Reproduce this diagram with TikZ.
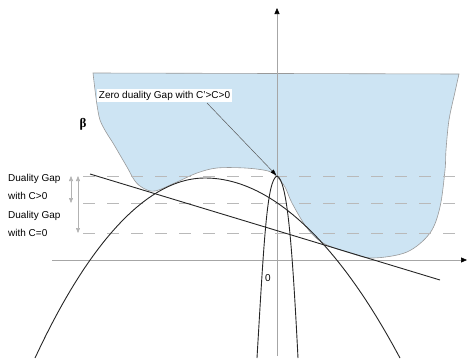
\documentclass[tikz,border=0pt]{standalone}
\usepackage{xcolor}
\usepackage{fontspec}
\setmainfont{Liberation Sans}
\newfontfamily\betafont{Liberation Serif}
\usepackage{tikz}
\usetikzlibrary{arrows.meta,positioning}

\definecolor{setblue}{HTML}{CDE4F3}

\begin{document}
\begin{tikzpicture}[
    x=1pt, y=-1pt,
    region/.style={fill=setblue, draw=gray!80, line width=0.6pt},
    axis/.style={draw=gray!70, line width=0.6pt, -{Triangle[length=6pt,width=5pt,color=black]}},
    guide/.style={draw=gray!55, line width=0.6pt, dash pattern=on 12pt off 12pt},
    curve/.style={draw=black!85, line width=0.9pt},
    arr/.style={draw=gray!70!black, line width=0.5pt, -{Triangle[length=6pt,width=4pt,color=black]}, shorten >=1pt},
    gaparr/.style={draw=gray!60, line width=0.6pt, {Triangle[length=5pt,width=4pt]}-{Triangle[length=5pt,width=4pt]}},
    lbl/.style={font=\fontsize{10}{18}\selectfont, align=left, inner sep=0pt},
    note/.style={font=\fontsize{10}{12}\selectfont, fill=white, inner sep=1.5pt},
]
\useasboundingbox (0,0) rectangle (467,359);

% feasible set (shaded)
\path[region] (93,73) -- (459,74) -- plot[smooth, tension=0.55] coordinates {
    (459,74) (455,92) (449,120) (446,150) (445,170) (440,207) (430,233)
    (407,252) (373,258) (350,253) (323,243) (307,228) (292,203) (285,187)
    (277,177) (268,171) (245,168) (217,168) (197,173) (177,182) (155,191)
    (143,188) (135,181) (127,167) (120,155) (113,143) (106,132) (100,120)
    (97,105) (95,90) (93,73)} -- cycle;

% axes
\coordinate (ybot) at (277,356);
\coordinate (ytop) at (277,8);
\coordinate (xleft) at (52,260);
\coordinate (xright) at (467,260);
\draw[axis] (xleft) -- (xright);
\draw[axis] (ybot) -- (ytop);

% dashed levels
\foreach \lv/\yy in {a/176, b/203, c/233} {
    \coordinate (\lv0) at (83,\yy);
    \coordinate (\lv1) at (455,\yy);
    \draw[guide] (\lv0) -- (\lv1);
}

% curves
\coordinate (peak) at (277,176);
\coordinate (t1) at (90,174);
\coordinate (t2) at (440,280);
\draw[curve] (35,358) parabola bend (205,178) (400,358);
\draw[curve] (257,358) .. controls (264,240) and (267,180) .. (peak)
             .. controls (287,180) and (292,240) .. (298,358);
\draw[curve] (t1) -- (t2);

% gaps
\coordinate (g1a) at (71,176);
\coordinate (g1b) at (71,203);
\coordinate (g2a) at (78,176);
\coordinate (g2b) at (78,233);
\draw[gaparr] (g1a) -- (g1b);
\draw[gaparr] (g2a) -- (g2b);
\node[lbl, anchor=west] (gapc) at (8,186.5) {Duality Gap\\with C>0};
\node[lbl, anchor=west] (gapz) at (8,223.5) {Duality Gap\\with C=0};

% labels
\node[note] (zdg) at (164.5,95.5) {Zero duality Gap with C'>C>0};
\coordinate (zdgfoot) at (207,103);
\draw[arr] (zdgfoot) -- (peak);
\node (beta) at (83,124) {\betafont\bfseries\fontsize{13}{13}\selectfont β};
\node[font=\fontsize{10}{12}\selectfont] (zero) at (268,278) {0};
\end{tikzpicture}
\end{document}
